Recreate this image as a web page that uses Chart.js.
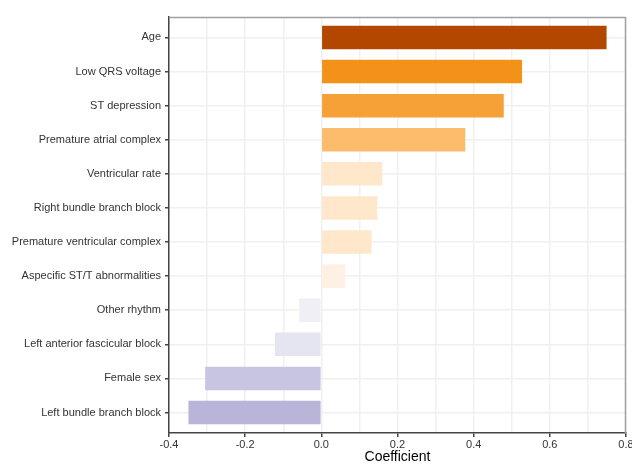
<!DOCTYPE html>
<html>
<head>
<meta charset="utf-8">
<script src="https://cdn.jsdelivr.net/npm/chart.js@4/dist/chart.umd.min.js"></script>
<style>
  html, body { margin: 0; padding: 0; background: #fff; }
  #wrap { width: 632px; height: 464px; }
</style>
</head>
<body>
<div id="wrap"><canvas id="c" width="632" height="464"></canvas></div>
<script>
// ECG features and their model coefficients, top row first
const categories = [
  'Age',
  'Low QRS voltage',
  'ST depression',
  'Premature atrial complex',
  'Ventricular rate',
  'Right bundle branch block',
  'Premature ventricular complex',
  'Aspecific ST/T abnormalities',
  'Other rhythm',
  'Left anterior fascicular block',
  'Female sex',
  'Left bundle branch block'
];
const coefficients = [0.749, 0.527, 0.479, 0.378, 0.160, 0.147, 0.132, 0.062, -0.058, -0.122, -0.305, -0.349];
const xTickValues = [-0.4, -0.3, -0.2, -0.1, 0.0, 0.1, 0.2, 0.3, 0.4, 0.5, 0.6, 0.7, 0.8];

// diverging fill, one colour per bar
const barColors = [
  '#b34700', '#f29219', '#f5a138', '#fdbc6c',
  '#fee7cb', '#fee7cb', '#fee7cb', '#fef1e3',
  '#efeff5', '#e5e5f2', '#c7c5e2', '#b9b5d9'
];

const isMajor = v => Math.round(v * 10) % 2 === 0;

// outer panel frame (top and right edges)
const panelFrame = {
  id: 'panelFrame',
  afterDatasetsDraw(chart) {
    const { ctx, chartArea: a } = chart;
    ctx.save();
    ctx.strokeStyle = '#a0a0a0';
    ctx.lineWidth = 1.5;
    ctx.beginPath();
    ctx.moveTo(a.left, a.top + 0.5);
    ctx.lineTo(a.right - 0.5, a.top + 0.5);
    ctx.lineTo(a.right - 0.5, a.bottom);
    ctx.stroke();
    ctx.restore();
  }
};

new Chart(document.getElementById('c'), {
  type: 'bar',
  data: {
    datasets: [{
      data: coefficients.map((v, i) => ({ x: v, y: i + 1 })),
      backgroundColor: barColors,
      borderWidth: 0,
      categoryPercentage: 1,
      barPercentage: 0.69
    }]
  },
  options: {
    indexAxis: 'y',
    responsive: false,
    animation: false,
    devicePixelRatio: 1,
    layout: { padding: { top: 17, right: 6, left: 0, bottom: 0 } },
    plugins: { legend: { display: false }, tooltip: { enabled: false } },
    scales: {
      x: {
        type: 'linear',
        min: -0.4,
        max: 0.8,
        afterBuildTicks: s => { s.ticks = xTickValues.map(v => ({ value: v })); },
        afterFit: s => { s.height = 31; s.paddingLeft = 0; s.paddingRight = 0; },
        grid: {
          color: '#f0f0f0',
          lineWidth: 1.5,
          drawTicks: true,
          tickLength: 4,
          tickWidth: 1.5,
          tickColor: c => (c.tick && isMajor(c.tick.value)) ? '#444444' : 'rgba(0,0,0,0)'
        },
        border: { display: true, color: '#444444', width: 1.5 },
        ticks: {
          autoSkip: false,
          maxRotation: 0,
          padding: 1,
          color: '#333333',
          font: { family: 'Liberation Sans, Arial, sans-serif', size: 11 },
          callback: v => isMajor(v) ? v.toFixed(1) : ''
        },
        title: {
          display: true,
          text: 'Coefficient',
          color: '#000000',
          padding: 0,
          font: { family: 'Liberation Sans, Arial, sans-serif', size: 14, lineHeight: 1 }
        }
      },
      y: {
        type: 'linear',
        reverse: true,
        offset: false,
        min: 0.4,
        max: 12.6,
        afterBuildTicks: s => { s.ticks = categories.map((_, i) => ({ value: i + 1 })); },
        afterFit: s => { s.width = 169; s.paddingTop = 0; s.paddingBottom = 0; },
        grid: {
          offset: false,
          color: '#f0f0f0',
          lineWidth: 1.5,
          drawTicks: true,
          tickLength: 4,
          tickWidth: 1.5,
          tickColor: '#444444'
        },
        border: { display: true, color: '#444444', width: 1.5 },
        ticks: {
          autoSkip: false,
          padding: 4,
          color: '#333333',
          font: { family: 'Liberation Sans, Arial, sans-serif', size: 11 },
          callback: v => categories[Math.round(v) - 1] || ''
        }
      }
    }
  },
  plugins: [panelFrame]
});
</script>
</body>
</html>
